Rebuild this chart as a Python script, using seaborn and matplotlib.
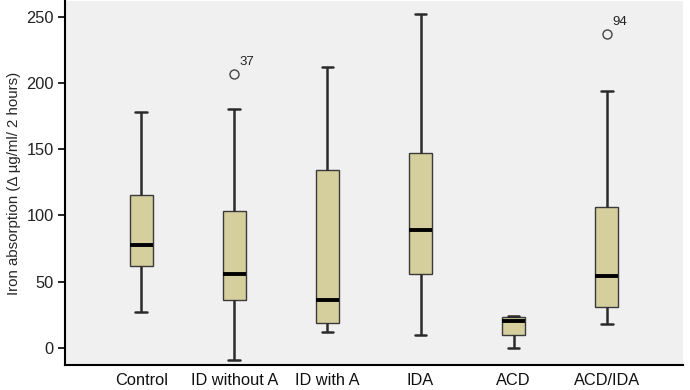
import numpy as np
import pandas as pd
import matplotlib
matplotlib.use("Agg")
import matplotlib.pyplot as plt
import seaborn as sns

# Five-number summaries
groups = ["Control", "ID without A", "ID with A", "IDA", "ACD", "ACD/IDA"]
whisker_low = [27, -9, 12, 10, 0, 18]
q1 = [62, 36, 19, 56, 10, 31]
median = [78, 56, 36, 89, 20, 54]
q3 = [115, 103, 134, 147, 23, 106]
whisker_high = [178, 180, 212, 252, 24, 194]
outlier_value = [None, 207, None, None, None, 237]
outlier_label = [None, "37", None, None, None, "94"]

# Build small samples reproducing each summary exactly
rows = []
for g, lo, a, m, b, hi, ov in zip(groups, whisker_low, q1, median, q3, whisker_high, outlier_value):
    if ov is None:
        vals = [lo, a, m, b, hi]
    else:
        vals = [lo, a, a, m, m, b, b, hi, ov]
    rows += [(g, v) for v in vals]
df = pd.DataFrame(rows, columns=["group", "value"])

sns.set_theme(style="white")
plt.rcParams["font.family"] = ["Liberation Sans", "DejaVu Sans"]

fig = plt.figure(figsize=(6.9, 3.9), dpi=100)
ax = fig.add_axes([0.094, 0.064, 0.896, 0.934])
ax.set_facecolor("#f0f0f0")

sns.boxplot(
    data=df, x="group", y="value", order=groups, ax=ax,
    width=0.25, color="#d4cf9c", saturation=1, whis=1.5,
    linecolor="#2a2a2a", linewidth=1.2,
    boxprops=dict(facecolor="#d4cf9c", edgecolor="#3a3a3a", linewidth=1.0),
    medianprops=dict(color="black", linewidth=2.8),
    whiskerprops=dict(color="#2a2a2a", linewidth=1.8),
    capprops=dict(color="#2a2a2a", linewidth=1.8),
    flierprops=dict(marker="o", markerfacecolor="none", markeredgecolor="#444444",
                    markersize=6.5, markeredgewidth=1.0),
)

for i, (ov, lab) in enumerate(zip(outlier_value, outlier_label)):
    if ov is not None:
        ax.annotate(lab, (i, ov), xytext=(4, 4), textcoords="offset points",
                    fontsize=9.5, color="#222222", ha="left", va="bottom")

ax.set_xlim(-0.82, 5.82)
ax.set_ylim(-13, 262)
ax.set_yticks([0, 50, 100, 150, 200, 250])
ax.set_xlabel("")
ax.set_ylabel("Iron absorption (\u0394 \u00b5g/ml/ 2 hours)", fontsize=10.8, labelpad=4)
ax.tick_params(axis="y", which="both", left=True, length=5, width=1.2, color="black",
               labelsize=11.8, pad=3, labelcolor="#222222")
ax.tick_params(axis="x", length=0, labelsize=11.8, pad=6, labelcolor="#111111")

for s in ["top", "right"]:
    ax.spines[s].set_visible(False)
for s in ["left", "bottom"]:
    ax.spines[s].set_visible(True)
    ax.spines[s].set_color("black")
    ax.spines[s].set_linewidth(1.5)

fig.savefig("out.png", dpi=100, facecolor="white")
